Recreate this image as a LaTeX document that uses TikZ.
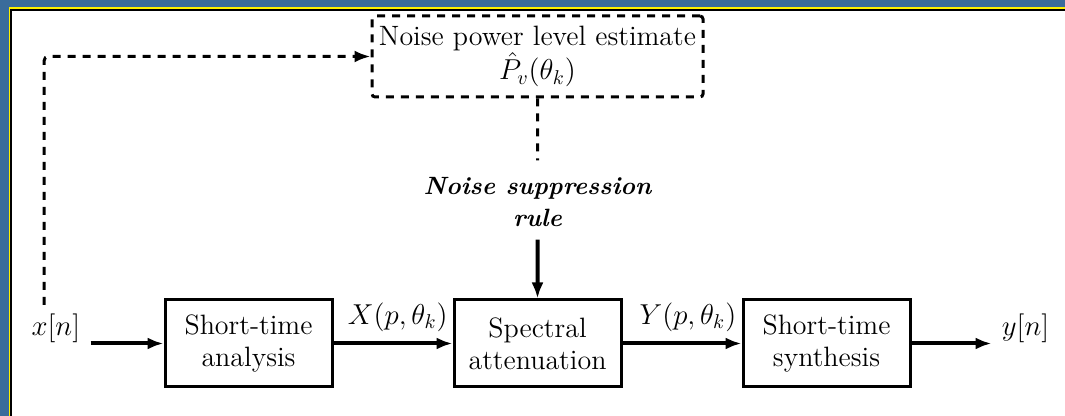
\documentclass[tikz,border=0pt]{standalone}
\usetikzlibrary{positioning,arrows.meta,calc}
\definecolor{framebl}{RGB}{58,108,155}

\begin{document}
\begin{tikzpicture}[
  font=\fontsize{14}{16}\selectfont,
  blk/.style={draw, line width=1.5pt, align=center, inner sep=0pt,
              minimum width=83.5pt, minimum height=43.5pt},
  est/.style={draw, line width=1.5pt, dash pattern=on 4pt off 3.5pt,
              rounded corners=1.5pt, align=center, inner sep=0pt,
              minimum width=165.5pt, minimum height=40.5pt},
  arr/.style={-{Latex[length=8pt,width=6pt]}, line width=2pt},
  dsh/.style={line width=1.5pt, dash pattern=on 4pt off 3.5pt},
  sig/.style={inner sep=0pt},
]
% frame
\fill[framebl] (0,0) rectangle (532.5pt,-208pt);
\fill[yellow] (4.5pt,-3.5pt) rectangle (532.5pt,-208pt);
\fill[black] (5.2pt,-4.4pt) rectangle (532.5pt,-208pt);
\fill[white] (6pt,-5.3pt) rectangle (532.5pt,-208pt);
\useasboundingbox (0,0) rectangle (532.5pt,-208pt);

\node[blk] (ana) at (124.25pt,-171.75pt) {Short-time\\analysis};
\node[blk, right=59.5pt of ana] (att) {Spectral\\attenuation};
\node[blk, right=59.5pt of att] (syn) {Short-time\\synthesis};
\node[est, above=100pt of att] (est) {Noise power level estimate\\$\hat{P}_v(\theta_k)$};
\node[align=center, inner sep=0pt, font=\fontsize{12.5}{16}\selectfont\bfseries\itshape]
  (rule) at ($(est.south)!0.52!(att.north)$) {Noise suppression\\rule};

\coordinate[left=36.5pt of ana] (in);
\coordinate[right=40pt of syn] (out);
\node[sig, anchor=south east] (xin) at ([xshift=-5pt]in) {$x[n]$};
\node[sig, anchor=south west] (yout) at ([xshift=5pt]out) {$y[n]$};

\draw[arr] (in) -- (ana);
\draw[arr] (ana) -- node[sig, pos=0.54, above=5pt] {$X(p,\theta_k)$} (att);
\draw[arr] (att) -- node[sig, pos=0.55, above=5pt] {$Y(p,\theta_k)$} (syn);
\draw[arr] (syn) -- (out);
\draw[arr] ([yshift=-6pt]rule.south) -- (att.north);
\draw[dsh] (est.south) -- ([yshift=8.5pt]rule.north);
\draw[dsh, rounded corners=2pt, -{Latex[length=8pt,width=6pt]}]
  ([xshift=6.5pt,yshift=4.5pt]xin.north west) |- (est.west);
\end{tikzpicture}
\end{document}
